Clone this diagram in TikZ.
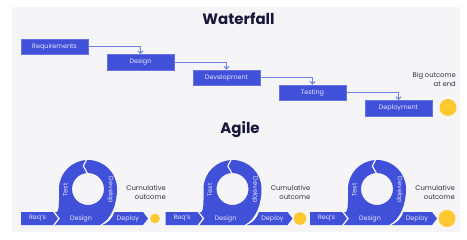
\documentclass[tikz,border=0pt]{standalone}
\usepackage{fontspec}
\setmainfont{Poppins}
\usetikzlibrary{arrows.meta}
\definecolor{bgc}{HTML}{F5F5F8}
\definecolor{bl}{HTML}{4050D8}
\definecolor{ln}{HTML}{7082E6}
\definecolor{yl}{HTML}{FFC82E}
\definecolor{ttl}{HTML}{16173A}
\definecolor{gt}{HTML}{2E2E3C}
\definecolor{wt}{HTML}{E4E8FF}
\begin{document}
\begin{tikzpicture}[x=1pt,y=-1pt,
  wbox/.style={fill=bl,draw=bl!80!white,line width=0.5pt,minimum width=67pt,minimum height=15.5pt,inner sep=0pt,text=wt,font=\fontsize{6.4}{7}\selectfont},
  flow/.style={draw=ln,line width=1pt,-{Straight Barb[length=2.5pt,width=5pt]}},
  title/.style={font=\fontsize{15}{17}\selectfont\bfseries,text=ttl},
  note/.style={font=\fontsize{6.8}{9}\selectfont,text=gt,align=right,anchor=east,inner sep=0pt},
  ltxt/.style={text=wt,font=\fontsize{6.4}{7}\selectfont,inner sep=0pt},
  sun/.style={circle,fill=yl,inner sep=0pt}]
\useasboundingbox (0,0) rectangle (467,239);
\fill[white] (0,0) rectangle (467,239);
\fill[bgc] (12,7) rectangle (460,232);
% titles
\node[title] (wft) at (238.5,19) {Waterfall};
\node[title] (agt) at (240,130) {Agile};
% waterfall
\node[wbox] (req) at (54.5,46.5) {Requirements};
\node[wbox] (des) at (140.5,62) {Design};
\node[wbox] (dev) at (226.5,77.5) {Development};
\node[wbox] (tst) at (312.5,92.5) {Testing};
\node[wbox] (dep) at (398.5,108) {Deployment};
\draw[flow] (req.east) -| (des.north);
\draw[flow] (des.east) -| (dev.north);
\draw[flow] (dev.east) -| (tst.north);
\draw[flow] (tst.east) -| (dep.north);
\node[sun,minimum size=17pt] (big) at (448,107.5) {};
\node[note] (bignote) at (456,79) {Big outcome\\at end};
% agile
\foreach \dx/\rr/\sx/\n in {0/4.8/155/a,144.5/6.3/155.5/b,289/8.5/158/c}{
 \begin{scope}[xshift=\dx pt]
  \fill[bl] (21,212) -- (53,212) -- (58,218.5) -- (53,225) -- (21,225) -- cycle;
  \fill[bl,even odd rule] (55,225) -- (60,218.5) -- (55,212) -- (57,212)
     .. controls (59.5,210) and (59,198) .. (59,189)
     arc[start angle=180,end angle=360,radius=29]
     .. controls (117,203) and (112,219) .. (100,225) -- cycle
     (88,189) circle[radius=16];
  \draw[bgc,line width=1.2pt] (87.2,158.5) -- (83.3,166) -- (87.8,174);
  \fill[bl] (102.5,225) .. controls (108.5,222.5) and (112.5,218) .. (114.5,212)
     -- (143,212) -- (148,218.5) -- (143,225) -- cycle;
  \node[ltxt] (rq\n) at (37.5,218.5) {Req's};
  \node[ltxt] (ds\n) at (81,218.5) {Design};
  \node[ltxt] (dp\n) at (128,218.5) {Deploy};
  \node[ltxt,rotate=90] (ts\n) at (65.5,190) {Test};
  \node[ltxt,rotate=-90] (dv\n) at (110.5,190) {Develop};
  \node[sun,minimum size=2*\rr pt] (sn\n) at (\sx,218.5) {};
  \node[note] (cu\n) at (166,192.5) {Cumulative\\outcome};
 \end{scope}
}
\end{tikzpicture}
\end{document}
